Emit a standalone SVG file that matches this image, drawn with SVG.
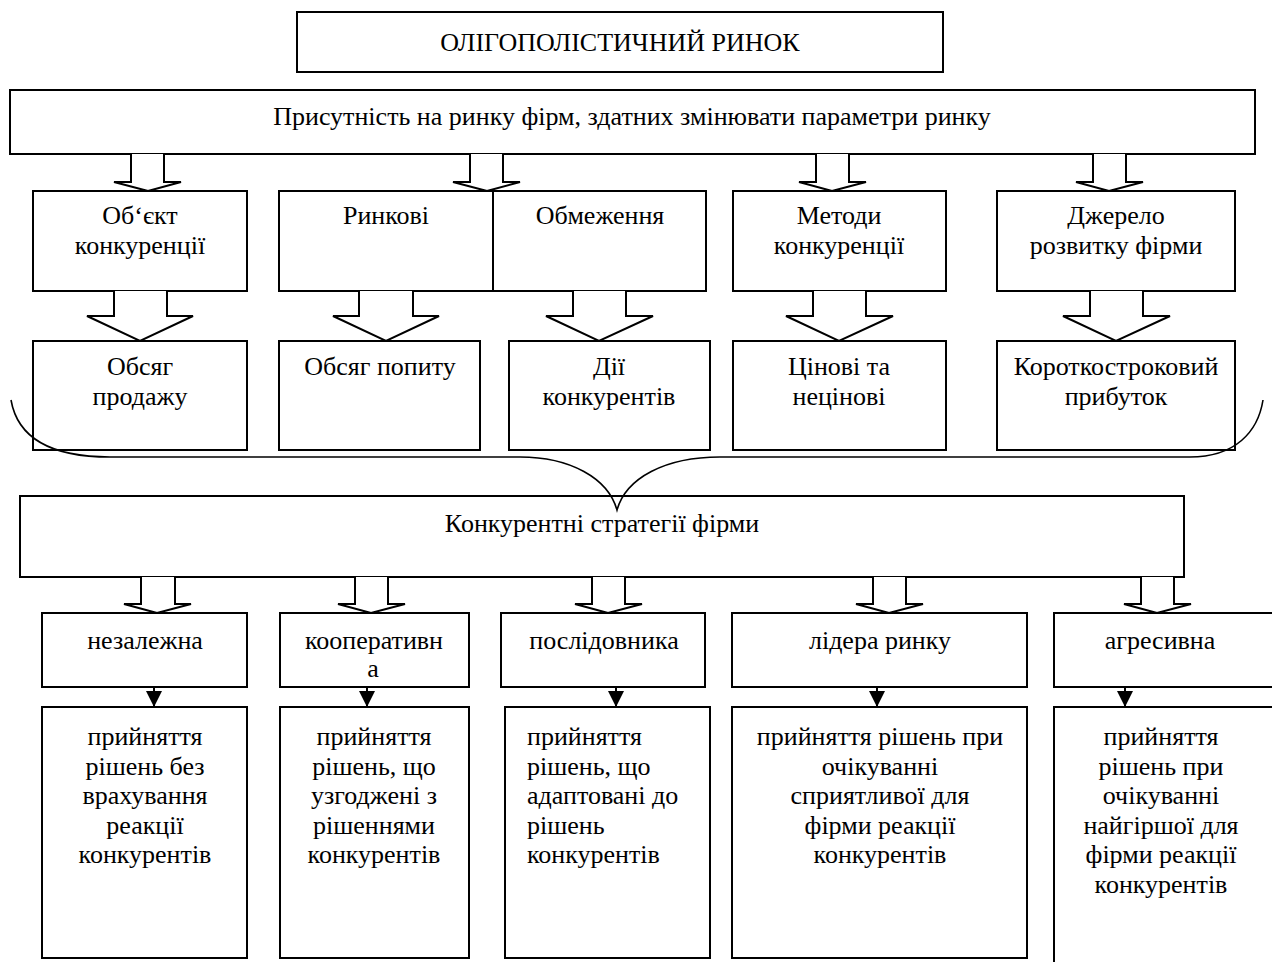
<svg xmlns="http://www.w3.org/2000/svg" width="1272" height="962" viewBox="0 0 1272 962">
<defs>
<style>
rect.b{fill:#fff;stroke:#000;stroke-width:2}
.t{font-family:"Liberation Serif","Times New Roman",serif;font-size:26px;fill:#000;text-anchor:middle}
.l{text-anchor:start}
.ha{fill:#fff;stroke:#000;stroke-width:2;stroke-linejoin:miter}
.br{fill:none;stroke:#000;stroke-width:1.6}
.sa{stroke:#000;stroke-width:2;fill:none}
</style>
<marker id="ahs" viewBox="0 0 16 16" refX="16" refY="8" markerWidth="16" markerHeight="16" markerUnits="userSpaceOnUse" orient="auto">
<path d="M0,0 L16,8 L0,16 Z" fill="#000"/>
</marker>
</defs>
<rect width="1272" height="962" fill="#fff"/>

<g id="title"><rect class="b" x="297" y="12" width="646" height="60"/><text class="t" x="620" y="51">ОЛІГОПОЛІСТИЧНИЙ РИНОК</text></g>
<g id="presence"><rect class="b" x="10" y="90" width="1245" height="64"/><text class="t" x="632" y="125">Присутність на ринку фірм, здатних змінювати параметри ринку</text></g>

<g id="obj"><rect class="b" x="33" y="191" width="214" height="100"/><text class="t" x="140" y="224">Об‘єкт</text><text class="t" x="140" y="254">конкуренції</text></g>
<g id="market-limits"><rect class="b" x="279" y="191" width="427" height="100"/><line x1="493" y1="191" x2="493" y2="291" stroke="#000" stroke-width="2"/><text class="t" x="386" y="224">Ринкові</text><text class="t" x="600" y="224">Обмеження</text></g>
<g id="methods"><rect class="b" x="733" y="191" width="213" height="100"/><text class="t" x="839" y="224">Методи</text><text class="t" x="839" y="254">конкуренції</text></g>
<g id="source"><rect class="b" x="997" y="191" width="238" height="100"/><text class="t" x="1116" y="224">Джерело</text><text class="t" x="1116" y="254">розвитку фірми</text></g>

<g id="sales"><rect class="b" x="33" y="341" width="214" height="109"/><text class="t" x="140" y="375">Обсяг</text><text class="t" x="140" y="405">продажу</text></g>
<g id="demand"><rect class="b" x="279" y="341" width="201" height="109"/><text class="t" x="380" y="375">Обсяг попиту</text></g>
<g id="actions"><rect class="b" x="509" y="341" width="201" height="109"/><text class="t" x="609" y="375">Дії</text><text class="t" x="609" y="405">конкурентів</text></g>
<g id="price"><rect class="b" x="733" y="341" width="213" height="109"/><text class="t" x="839" y="375">Цінові та</text><text class="t" x="839" y="405">нецінові</text></g>
<g id="profit"><rect class="b" x="997" y="341" width="238" height="109"/><text class="t" x="1116" y="375">Короткостроковий</text><text class="t" x="1116" y="405">прибуток</text></g>

<g id="strategies"><rect class="b" x="20" y="496" width="1164" height="81"/><text class="t" x="602" y="532">Конкурентні стратегії фірми</text></g>

<g id="s-indep"><rect class="b" x="42" y="613" width="205" height="74"/><text class="t" x="145" y="649">незалежна</text></g>
<g id="s-coop"><rect class="b" x="280" y="613" width="189" height="74"/><text class="t" x="374" y="649">кооперативн</text><text class="t" x="373" y="677">а</text></g>
<g id="s-follow"><rect class="b" x="501" y="613" width="204" height="74"/><text class="t" x="604" y="649">послідовника</text></g>
<g id="s-leader"><rect class="b" x="732" y="613" width="295" height="74"/><text class="t" x="880" y="649">лідера ринку</text></g>
<g id="s-aggr"><rect class="b" x="1054" y="613" width="230" height="74"/><text class="t" x="1160" y="649">агресивна</text></g>

<g id="d-indep"><rect class="b" x="42" y="707" width="205" height="251"/><text class="t" x="145" y="745">прийняття</text><text class="t" x="145" y="775">рішень без</text><text class="t" x="145" y="804">врахування</text><text class="t" x="145" y="834">реакції</text><text class="t" x="145" y="863">конкурентів</text></g>
<g id="d-coop"><rect class="b" x="280" y="707" width="189" height="251"/><text class="t" x="374" y="745">прийняття</text><text class="t" x="374" y="775">рішень, що</text><text class="t" x="374" y="804">узгоджені з</text><text class="t" x="374" y="834">рішеннями</text><text class="t" x="374" y="863">конкурентів</text></g>
<g id="d-follow"><rect class="b" x="505" y="707" width="205" height="251"/><text class="t l" x="527" y="745">прийняття</text><text class="t l" x="527" y="775">рішень, що</text><text class="t l" x="527" y="804">адаптовані до</text><text class="t l" x="527" y="834">рішень</text><text class="t l" x="527" y="863">конкурентів</text></g>
<g id="d-leader"><rect class="b" x="732" y="707" width="295" height="251"/><text class="t" x="880" y="745">прийняття рішень при</text><text class="t" x="880" y="775">очікуванні</text><text class="t" x="880" y="804">сприятливої для</text><text class="t" x="880" y="834">фірми реакції</text><text class="t" x="880" y="863">конкурентів</text></g>
<g id="d-aggr"><rect class="b" x="1054" y="707" width="230" height="270"/><text class="t" x="1161" y="745">прийняття</text><text class="t" x="1161" y="775">рішень при</text><text class="t" x="1161" y="804">очікуванні</text><text class="t" x="1161" y="834">найгіршої для</text><text class="t" x="1161" y="863">фірми реакції</text><text class="t" x="1161" y="893">конкурентів</text></g>

<g id="connectors">
<path class="ha" d="M131,154 V182 H114 L148,191 L181,182 H164 V154"/>
<path class="ha" d="M470,154 V182 H453 L487,191 L520,182 H503 V154"/>
<path class="ha" d="M816,154 V182 H799 L832,191 L866,182 H849 V154"/>
<path class="ha" d="M1093,154 V182 H1076 L1109,191 L1143,182 H1126 V154"/>

<path class="ha" d="M114,291 V316 H87 L140,341 L193,316 H167 V291"/>
<path class="ha" d="M359,291 V316 H333 L386,341 L439,316 H413 V291"/>
<path class="ha" d="M573,291 V316 H546 L599,341 L653,316 H626 V291"/>
<path class="ha" d="M813,291 V316 H786 L839,341 L893,316 H866 V291"/>
<path class="ha" d="M1090,291 V316 H1063 L1116,341 L1170,316 H1143 V291"/>

<path class="br" d="M11,400 C18,440 55,457 110,457 H520 C570,457 608,478 617,510 C626,478 665,457 720,457 H1190 C1235,457 1258,432 1263,400"/>

<path class="ha" d="M141,577 V604 H124 L157,613 L191,604 H175 V577"/>
<path class="ha" d="M355,577 V604 H338 L371,613 L405,604 H388 V577"/>
<path class="ha" d="M592,577 V604 H575 L608,613 L642,604 H625 V577"/>
<path class="ha" d="M873,577 V604 H856 L889,613 L923,604 H906 V577"/>
<path class="ha" d="M1141,577 V604 H1124 L1157,613 L1191,604 H1174 V577"/>

<line class="sa" x1="154" y1="687" x2="154" y2="707" marker-end="url(#ahs)"/>
<line class="sa" x1="367" y1="687" x2="367" y2="707" marker-end="url(#ahs)"/>
<line class="sa" x1="616" y1="687" x2="616" y2="707" marker-end="url(#ahs)"/>
<line class="sa" x1="877" y1="687" x2="877" y2="707" marker-end="url(#ahs)"/>
<line class="sa" x1="1125" y1="687" x2="1125" y2="707" marker-end="url(#ahs)"/>
</g>
</svg>
